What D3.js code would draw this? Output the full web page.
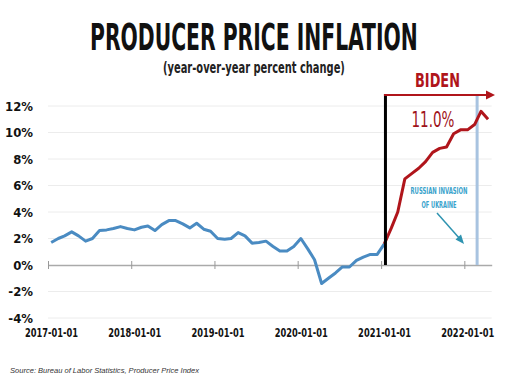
<!DOCTYPE html>
<html>
<head>
<meta charset="utf-8">
<script src="https://cdn.jsdelivr.net/npm/d3@7"></script>
<style>
  html, body { margin: 0; padding: 0; background: #fff; }
  svg { display: block; }
</style>
</head>
<body>
<div class="chart"></div>
<script>
/* data */
const startMonth = '2017-01';
// monthly PPI y/y % change, 2017-01 .. 2021-01 (before Biden)
const beforeValues = [
  1.7, 2.0, 2.2, 2.5, 2.2, 1.8, 2.0, 2.6, 2.65, 2.75, 2.9, 2.75,
  2.65, 2.85, 2.95, 2.6, 3.05, 3.35, 3.35, 3.1, 2.8, 3.15, 2.7, 2.55,
  2.0, 1.95, 2.0, 2.45, 2.2, 1.65, 1.7, 1.8, 1.4, 1.05, 1.05, 1.4,
  2.0, 1.2, 0.4, -1.4, -1.0, -0.6, -0.15, -0.15, 0.35, 0.6, 0.8, 0.8,
  1.6
];
// 2021-01 .. 2022-04 (Biden)
const bidenStart = '2021-01';
const bidenValues = [1.6, 2.8, 4.0, 6.5, 6.9, 7.3, 7.8, 8.5, 8.8, 8.9, 9.9, 10.2, 10.2, 10.6, 11.6, 11.0];
const yTicks = [-4, -2, 0, 2, 4, 6, 8, 10, 12];
const xTicks = ['2017-01-01', '2018-01-01', '2019-01-01', '2020-01-01', '2021-01-01', '2022-01-01'];
const inaugurationDate = '2021-01-20';
const invasionDate = '2022-02-26';

/* sizes */
const W = 512, H = 379;
const parseMonth = d3.timeParse('%Y-%m');
const parseDay = d3.timeParse('%Y-%m-%d');
const toSeries = (start, values) => values.map((v, i) => ({
  date: d3.timeDay.offset(d3.timeMonth.offset(parseMonth(start), i), 14), // points sit mid-month
  value: v
}));
const before = toSeries(startMonth, beforeValues);
const biden = toSeries(bidenStart, bidenValues);

const x = d3.scaleTime([parseDay('2017-01-01'), parseDay('2022-05-01')], [48, 491.7]);
const y = d3.scaleLinear([-4, 12], [318, 106]);

const svg = d3.select('.chart').append('svg')
  .attr('width', W)
  .attr('height', H);

const condensed = '"Liberation Sans Narrow", "DejaVu Sans Condensed", "Roboto Condensed", sans-serif';

// squeeze a text horizontally so that it spans `width` px starting at x0
const fitText = (sel, x0, width) => {
  const w = sel.node().getComputedTextLength();
  sel.attr('x', 0).attr('transform', `translate(${x0}, 0) scale(${width / w}, 1)`);
};

/* title */
svg.append('text')
  .attr('y', 50)
  .attr('font-family', condensed)
  .attr('font-weight', 'bold')
  .attr('font-size', 37)
  .attr('fill', '#111')
  .text('PRODUCER PRICE INFLATION')
  .call(fitText, 90, 328);

svg.append('text')
  .attr('y', 73)
  .attr('font-family', condensed)
  .attr('font-weight', 'bold')
  .attr('font-size', 16.5)
  .attr('fill', '#222')
  .text('(year-over-year percent change)')
  .call(fitText, 163, 182);

/* grid */
svg.append('g')
  .selectAll('line')
  .data(yTicks.filter(d => d !== 0))
  .join('line')
    .attr('x1', x.range()[0]).attr('x2', x.range()[1])
    .attr('y1', d => y(d)).attr('y2', d => y(d))
    .attr('stroke', '#ececec')
    .attr('stroke-width', 1);

// y labels
svg.append('g')
  .selectAll('text')
  .data(yTicks)
  .join('text')
    .attr('x', 33)
    .attr('y', d => y(d))
    .attr('dy', '0.36em')
    .attr('text-anchor', 'end')
    .attr('font-family', condensed)
    .attr('font-weight', 'bold')
    .attr('font-size', 13)
    .attr('fill', '#111')
    .text(d => d + '%');

// zero axis with year ticks
const xAxis = d3.axisBottom(x)
  .tickValues(xTicks.map(parseDay))
  .tickSize(4)
  .tickSizeOuter(0)
  .tickFormat('');
svg.append('g')
  .attr('transform', `translate(0, ${y(0)})`)
  .call(xAxis)
  .call(g => g.select('.domain').attr('stroke', '#aaa').attr('stroke-width', 1.5))
  .call(g => g.selectAll('.tick line').attr('stroke', '#999').attr('y1', -4));

// x labels (bottom)
svg.append('g')
  .selectAll('text')
  .data(xTicks)
  .join('text')
    .attr('x', d => x(parseDay(d)) + 3.5)
    .attr('y', 337)
    .attr('text-anchor', 'middle')
    .attr('font-family', condensed)
    .attr('font-weight', 'bold')
    .attr('font-size', 12.5)
    .attr('textLength', 53)
    .attr('lengthAdjust', 'spacingAndGlyphs')
    .attr('fill', '#111')
    .text(d => d);

/* markers */
const xBiden = x(parseDay(inaugurationDate));
const xInv = x(parseDay(invasionDate));

svg.append('line')
  .attr('x1', xInv).attr('x2', xInv)
  .attr('y1', 96).attr('y2', y(0))
  .attr('stroke', '#a8c3e0')
  .attr('stroke-width', 3);

/* lines */
const line = d3.line()
  .x(d => x(d.date))
  .y(d => y(d.value));

svg.append('path')
  .datum(before)
  .attr('fill', 'none')
  .attr('stroke', '#4a8bc2')
  .attr('stroke-width', 3)
  .attr('stroke-linejoin', 'round')
  .attr('d', line);

svg.append('path')
  .datum(biden)
  .attr('fill', 'none')
  .attr('stroke', '#b0151b')
  .attr('stroke-width', 3)
  .attr('stroke-linejoin', 'round')
  .attr('d', line);

// Biden start line + arrow
svg.append('line')
  .attr('x1', xBiden).attr('x2', xBiden)
  .attr('y1', 94).attr('y2', y(0))
  .attr('stroke', '#000')
  .attr('stroke-width', 3);

svg.append('line')
  .attr('x1', xBiden - 1.5).attr('x2', 488)
  .attr('y1', 95).attr('y2', 95)
  .attr('stroke', '#b0151b')
  .attr('stroke-width', 2);
svg.append('path')
  .attr('d', `M486,90.5 L495,95 L486,99.5 Z`)
  .attr('fill', '#b0151b');

svg.append('text')
  .attr('y', 87)
  .attr('font-family', condensed)
  .attr('font-weight', 'bold')
  .attr('font-size', 20)
  .attr('fill', '#b0151b')
  .text('BIDEN')
  .call(fitText, 415, 45);

// last value label
const last = biden[biden.length - 1];
svg.append('text')
  .attr('y', 127)
  .attr('font-family', condensed)
  .attr('font-size', 21)
  .attr('fill', '#a0131a')
  .text(d3.format('.1f')(last.value) + '%')
  .call(fitText, 411.5, 43);

// invasion note
svg.append('text')
  .attr('x', 439).attr('y', 194)
  .attr('text-anchor', 'middle')
  .attr('font-family', condensed)
  .attr('font-weight', 'bold')
  .attr('font-size', 9)
  .attr('fill', '#3aa3cc')
  .selectAll('tspan')
  .data(['RUSSIAN INVASION', 'OF UKRAINE'])
  .join('tspan')
    .attr('x', 439)
    .attr('dy', (d, i) => i === 0 ? 0 : 14)
    .attr('textLength', (d, i) => i === 0 ? 57 : 35)
    .attr('lengthAdjust', 'spacingAndGlyphs')
    .text(d => d);

svg.append('line')
  .attr('x1', 437).attr('y1', 213)
  .attr('x2', 460).attr('y2', 239)
  .attr('stroke', '#2e93b0')
  .attr('stroke-width', 1.5);
svg.append('path')
  .attr('d', 'M464,244 L455.5,239.5 L461,234.5 Z')
  .attr('fill', '#2e93b0');

/* source */
svg.append('text')
  .attr('x', 10).attr('y', 373)
  .attr('font-family', '"Liberation Sans", Arial, sans-serif')
  .attr('font-style', 'italic')
  .attr('font-size', 8)
  .attr('textLength', 189)
  .attr('lengthAdjust', 'spacingAndGlyphs')
  .attr('fill', '#333')
  .text('Source: Bureau of Labor Statistics, Producer Price Index');
</script>
</body>
</html>
